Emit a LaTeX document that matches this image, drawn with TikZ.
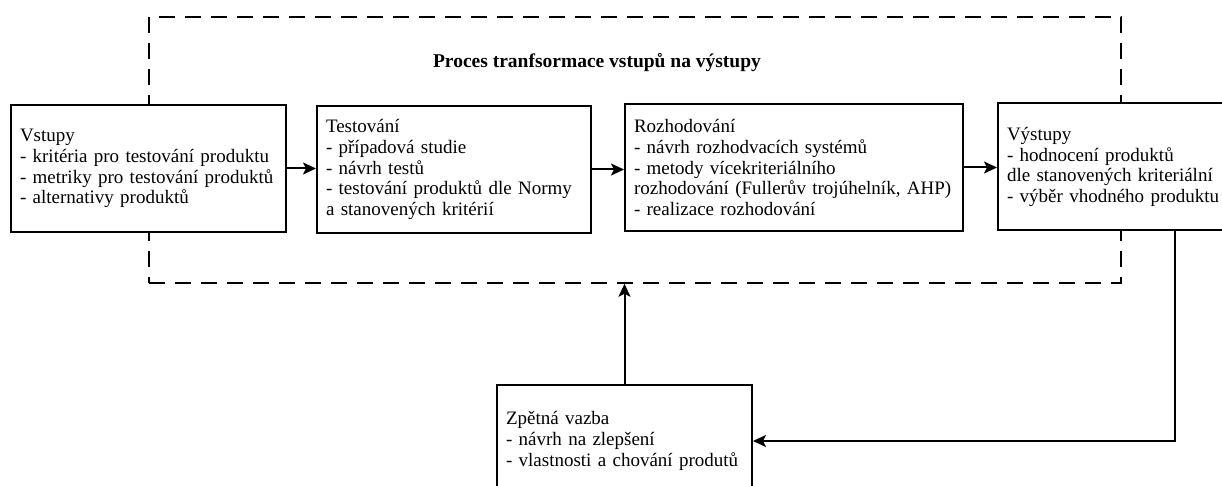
\documentclass[tikz,border=0pt]{standalone}
\usepackage{fontspec}
\setmainfont{Liberation Serif}
\usetikzlibrary{arrows.meta}

\begin{document}
\begin{tikzpicture}[x=1pt,y=-1pt,
  krok/.style={draw,line width=2pt,fill=white,align=left,inner xsep=9pt,
    minimum height=127pt,font=\fontsize{19}{20.7}\selectfont},
  sipka/.style={-{Stealth[length=13pt,width=12pt,inset=3pt]},line width=2pt}]
\clip (0,0) rectangle (1222,486);
% ramec procesu
\node [draw,dashed,dash pattern=on 16pt off 10pt,line width=1.5pt,minimum width=972pt,minimum height=266pt] (proces) at (635,150) {};
\node [font=\fontsize{19.5}{21}\selectfont\bfseries] (nadpis) at (597,63) {Proces tranfsormace vstupů na výstupy};
% kroky
\node [krok,text width=257pt] (vstupy) at (148.5,168.5) {Vstupy\\- kritéria pro testování produktu\\- metriky pro testování produktů\\- alternativy produktů};
\node [krok,text width=256pt] (testovani) at (454,169.5) {Testování\\- případová studie\\- návrh testů\\- testování produktů dle Normy\\a stanovených kritérií};
\node [krok,text width=320pt] (rozhodovani) at (794,167.5) {Rozhodování\\- návrh rozhodvacích systémů\\- metody vícekriteriálního\\rozhodování (Fullerův trojúhelník, AHP)\\- realizace rozhodování};
\node [krok,text width=232pt] (vystupy) at (1123,167) {Výstupy\\- hodnocení produktů\\dle stanovených kriteriální\\- výběr vhodného produktu};
\node [krok,text width=237pt,minimum height=112pt] (zpetna) at (624.5,441) {Zpětná vazba\\- návrh na zlepšení\\- vlastnosti a chování produtů};
% sipky
\draw [sipka] (vstupy.east) -- (vstupy.east -| testovani.west);
\draw [sipka] (testovani.east) -- (testovani.east -| rozhodovani.west);
\draw [sipka] (rozhodovani.east) -- (rozhodovani.east -| vystupy.west);
\coordinate (zlom) at (1175,438);
\draw [sipka] (vystupy.south -| zlom) |- (zpetna.east);
\draw [sipka] (zpetna.north) -- (zpetna.north |- proces.south);
\end{tikzpicture}
\end{document}
